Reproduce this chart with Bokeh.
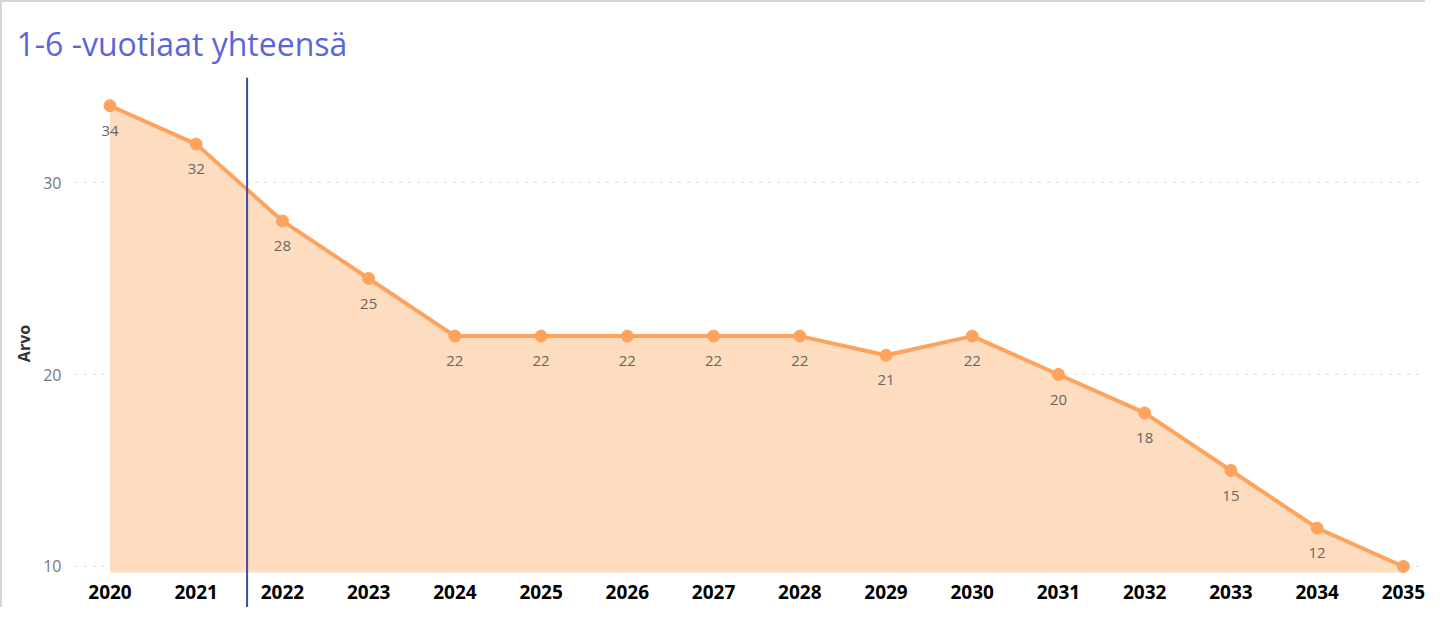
from bokeh.plotting import figure
from bokeh.models import ColumnDataSource, FixedTicker, Span, LabelSet, Title
from bokeh.embed import file_html
from bokeh.resources import INLINE
from bokeh.core.properties import value

years = [2020, 2021, 2022, 2023, 2024, 2025, 2026, 2027, 2028, 2029, 2030, 2031, 2032, 2033, 2034, 2035]
year_labels = [str(y) for y in years]
values = [34, 32, 28, 25, 22, 22, 22, 22, 22, 21, 22, 20, 18, 15, 12, 10]
y_ticks = [10, 20, 30]
title_text = "1-6 -vuotiaat yhteensä"
y_label = "Arvo"
marker_year = 2021.59
baseline = 9.69

src = ColumnDataSource(dict(x=years, y=values, base=[baseline] * len(years), lab=year_labels))
lab_src = ColumnDataSource(dict(x=years[:-1], y=values[:-1], t=[str(v) for v in values[:-1]]))

p = figure(width=1425, height=607, output_backend="svg", toolbar_location=None,
           x_range=(2019.6, 2035.28), y_range=(7.76, 35.47),
           min_border_left=73, min_border_right=0, min_border_bottom=0, min_border_top=75)

p.title = Title(text=title_text, text_font="Open Sans", text_font_size="32px",
                text_font_style="normal", text_color="#5a66d8", offset=-59, standoff=26)

p.outline_line_color = None
p.styles = {"border-top": "2px solid #d6d6d6", "border-left": "2px solid #d6d6d6", "box-sizing": "border-box"}

p.varea(x="x", y1="base", y2="y", source=src, fill_color="#fddcbf", fill_alpha=1.0)
p.line(x="x", y="y", source=src, line_color="#fea35d", line_width=4)
p.scatter(x="x", y="y", source=src, size=12, fill_color="#fea35d", line_color="#fea35d")

labels = LabelSet(x="x", y="y", text="t", source=lab_src, y_offset=-25, text_align="center",
                  text_baseline="middle", text_font=value("Open Sans"), text_font_size="15px",
                  text_color="#666666")
p.add_layout(labels)

# year labels under the area (drawn inside the frame so the marker line can cross them)
p.text(x="x", y="base", text="lab", source=src, y_offset=20, text_align="center",
       text_baseline="middle", text_font=value("Open Sans"), text_font_size="19px",
       text_font_style="bold", text_color="#000000")

p.add_layout(Span(location=marker_year, dimension="height", line_color="#3f4aa5", line_width=2))

p.yaxis.ticker = FixedTicker(ticks=y_ticks)
p.yaxis.axis_label = y_label
p.yaxis.axis_label_text_font = "Open Sans"
p.yaxis.axis_label_text_font_size = "16px"
p.yaxis.axis_label_text_font_style = "bold"
p.yaxis.axis_label_text_color = "#333333"
p.yaxis.axis_label_standoff = 5
p.yaxis.major_label_text_font = "Open Sans"
p.yaxis.major_label_text_font_size = "16px"
p.yaxis.major_label_text_color = "#777777"
p.yaxis.major_label_standoff = 8
p.yaxis.axis_line_color = None
p.yaxis.major_tick_line_color = None
p.yaxis.minor_tick_line_color = None

p.xaxis.visible = False
p.xgrid.grid_line_color = None
p.ygrid.grid_line_color = "#c8c8c8"
p.ygrid.grid_line_dash = "2 7"
p.ygrid.grid_line_width = 1

open("out.html", "w").write(file_html(p, INLINE))
